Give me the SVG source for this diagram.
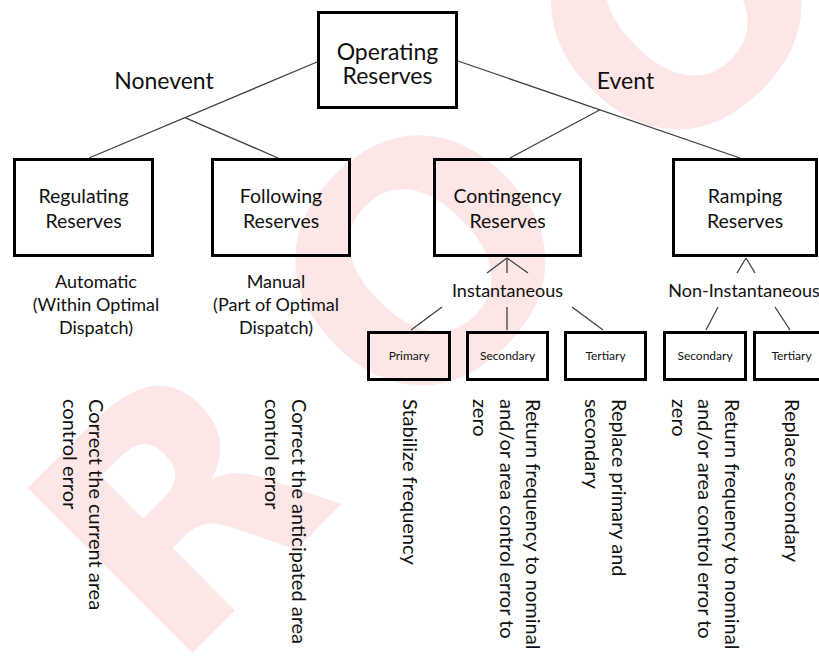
<svg xmlns="http://www.w3.org/2000/svg" width="819" height="656" viewBox="0 0 819 656">
<style>
.wm{font-family:"DejaVu Sans",sans-serif;font-weight:bold;font-size:320px;fill:#fde6e6}
.box{fill:none;stroke:#000;stroke-width:3}
.ln{stroke:#404040;stroke-width:1.3;fill:none}
text{font-family:Lato,"Open Sans",sans-serif;fill:#111}
.t1{font-size:23px;text-anchor:middle}
.t2{font-size:19.5px;text-anchor:middle}
.t3{font-size:18px;text-anchor:middle}
.t4{font-size:12px;text-anchor:middle}
.rt{font-size:20px}
</style>
<rect x="0" y="0" width="819" height="656" fill="#fff"/>
<text class="wm" transform="translate(420,260) rotate(-45)" x="-345 0 362" y="117" text-anchor="middle">ROO</text>

<g id="connectors">
<line class="ln" x1="317" y1="62" x2="89" y2="158"/>
<line class="ln" x1="185" y1="117.6" x2="278" y2="158"/>
<line class="ln" x1="458" y1="61" x2="740" y2="158"/>
<line class="ln" x1="600" y1="109.8" x2="510" y2="158"/>
<line class="ln" x1="507" y1="258" x2="487" y2="273"/>
<line class="ln" x1="507" y1="258" x2="507" y2="273"/>
<line class="ln" x1="507" y1="258" x2="528" y2="273"/>
<line class="ln" x1="442" y1="307" x2="411" y2="330"/>
<line class="ln" x1="507" y1="307" x2="507" y2="330"/>
<line class="ln" x1="572" y1="307" x2="603" y2="330"/>
<line class="ln" x1="746" y1="258" x2="737" y2="273"/>
<line class="ln" x1="746" y1="258" x2="755" y2="273"/>
<line class="ln" x1="718" y1="307" x2="706" y2="330"/>
<line class="ln" x1="775" y1="307" x2="790" y2="330"/>
</g>

<g id="operating">
<rect class="box" x="318.5" y="12.5" width="138" height="95"/>
<text class="t1" x="387.5" y="60">Operating</text>
<text class="t1" x="387.5" y="84">Reserves</text>
</g>
<g id="nonevent"><text class="t1" x="164" y="89">Nonevent</text></g>
<g id="event"><text class="t1" x="625.5" y="88.5">Event</text></g>

<g id="regulating">
<rect class="box" x="14.5" y="159.5" width="138" height="96"/>
<text class="t2" x="83.5" y="203">Regulating</text>
<text class="t2" x="83.5" y="228">Reserves</text>
</g>
<g id="following">
<rect class="box" x="212.5" y="159.5" width="137" height="96"/>
<text class="t2" x="281" y="203">Following</text>
<text class="t2" x="281" y="228">Reserves</text>
</g>
<g id="contingency">
<rect class="box" x="434.5" y="159.5" width="146" height="96"/>
<text class="t2" x="507.5" y="203">Contingency</text>
<text class="t2" x="507.5" y="228">Reserves</text>
</g>
<g id="ramping">
<rect class="box" x="673.5" y="159.5" width="143" height="96"/>
<text class="t2" x="745" y="203">Ramping</text>
<text class="t2" x="745" y="228">Reserves</text>
</g>

<g id="automatic">
<text class="t3" x="96" y="288">Automatic</text>
<text class="t3" x="96" y="311">(Within Optimal</text>
<text class="t3" x="96" y="334">Dispatch)</text>
</g>
<g id="manual">
<text class="t3" x="276" y="288">Manual</text>
<text class="t3" x="276" y="311">(Part of Optimal</text>
<text class="t3" x="276" y="334">Dispatch)</text>
</g>
<g id="instantaneous"><text class="t3" x="507.5" y="297">Instantaneous</text></g>
<g id="noninstantaneous"><text class="t3" x="744" y="297">Non-Instantaneous</text></g>

<g id="primary">
<rect class="box" x="368.5" y="332.5" width="81" height="47"/>
<text class="t4" x="409" y="360">Primary</text>
</g>
<g id="secondary1">
<rect class="box" x="467.5" y="332.5" width="80" height="47"/>
<text class="t4" x="507.5" y="360">Secondary</text>
</g>
<g id="tertiary1">
<rect class="box" x="565.5" y="332.5" width="80" height="47"/>
<text class="t4" x="605.5" y="360">Tertiary</text>
</g>
<g id="secondary2">
<rect class="box" x="664.5" y="332.5" width="81" height="47"/>
<text class="t4" x="705" y="360">Secondary</text>
</g>
<g id="tertiary2">
<rect class="box" x="754.5" y="332.5" width="78" height="47"/>
<text class="t4" x="791.5" y="360">Tertiary</text>
</g>

<g id="desc-regulating"><text class="rt" transform="translate(89,399) rotate(90)"><tspan x="0" y="0">Correct the current area</tspan><tspan x="0" dy="26.5">control error</tspan></text></g>
<g id="desc-following"><text class="rt" transform="translate(291.5,399) rotate(90)"><tspan x="0" y="0">Correct the anticipated area</tspan><tspan x="0" dy="26.5">control error</tspan></text></g>
<g id="desc-primary"><text class="rt" transform="translate(403,399) rotate(90)">Stabilize frequency</text></g>
<g id="desc-secondary1"><text class="rt" transform="translate(526,399) rotate(90)"><tspan x="0" y="0">Return frequency to nominal</tspan><tspan x="0" dy="26.5">and/or area control error to</tspan><tspan x="0" dy="26.5">zero</tspan></text></g>
<g id="desc-tertiary1"><text class="rt" transform="translate(611.5,399) rotate(90)"><tspan x="0" y="0">Replace primary and</tspan><tspan x="0" dy="26.5">secondary</tspan></text></g>
<g id="desc-secondary2"><text class="rt" transform="translate(724.5,399) rotate(90)"><tspan x="0" y="0">Return frequency to nominal</tspan><tspan x="0" dy="26.5">and/or area control error to</tspan><tspan x="0" dy="26.5">zero</tspan></text></g>
<g id="desc-tertiary2"><text class="rt" transform="translate(784.5,399) rotate(90)">Replace secondary</text></g>
</svg>
